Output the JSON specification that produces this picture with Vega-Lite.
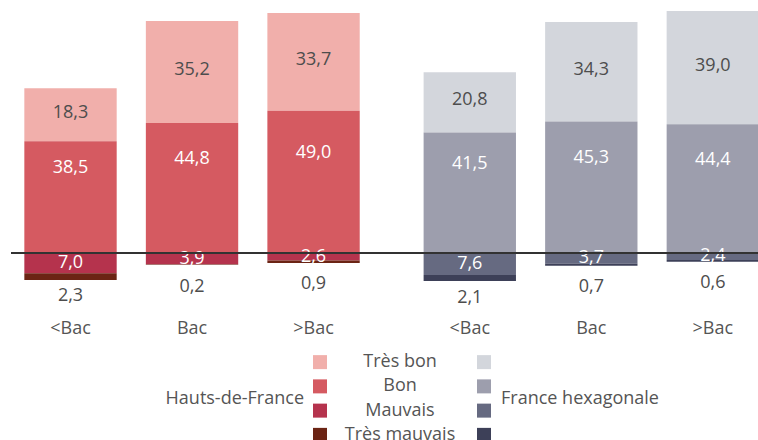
{
  "$schema": "https://vega.github.io/schema/vega-lite/v6.json",
  "padding": {"left": 10, "top": 0, "right": 0, "bottom": 0},
  "spacing": 10,
  "config": {"view": {"stroke": null}, "font": "Open Sans", "text": {"font": "Open Sans", "fontSize": 18}},
  "data": {"values": [
    {"group": "Hauts-de-France", "cat": "<Bac", "level": "Très bon", "value": 18.3},
    {"group": "Hauts-de-France", "cat": "<Bac", "level": "Bon", "value": 38.5},
    {"group": "Hauts-de-France", "cat": "<Bac", "level": "Mauvais", "value": 7.0},
    {"group": "Hauts-de-France", "cat": "<Bac", "level": "Très mauvais", "value": 2.3},
    {"group": "Hauts-de-France", "cat": "Bac", "level": "Très bon", "value": 35.2},
    {"group": "Hauts-de-France", "cat": "Bac", "level": "Bon", "value": 44.8},
    {"group": "Hauts-de-France", "cat": "Bac", "level": "Mauvais", "value": 3.9},
    {"group": "Hauts-de-France", "cat": "Bac", "level": "Très mauvais", "value": 0.2},
    {"group": "Hauts-de-France", "cat": ">Bac", "level": "Très bon", "value": 33.7},
    {"group": "Hauts-de-France", "cat": ">Bac", "level": "Bon", "value": 49.0},
    {"group": "Hauts-de-France", "cat": ">Bac", "level": "Mauvais", "value": 2.6},
    {"group": "Hauts-de-France", "cat": ">Bac", "level": "Très mauvais", "value": 0.9},
    {"group": "France hexagonale", "cat": "<Bac", "level": "Très bon", "value": 20.8},
    {"group": "France hexagonale", "cat": "<Bac", "level": "Bon", "value": 41.5},
    {"group": "France hexagonale", "cat": "<Bac", "level": "Mauvais", "value": 7.6},
    {"group": "France hexagonale", "cat": "<Bac", "level": "Très mauvais", "value": 2.1},
    {"group": "France hexagonale", "cat": "Bac", "level": "Très bon", "value": 34.3},
    {"group": "France hexagonale", "cat": "Bac", "level": "Bon", "value": 45.3},
    {"group": "France hexagonale", "cat": "Bac", "level": "Mauvais", "value": 3.7},
    {"group": "France hexagonale", "cat": "Bac", "level": "Très mauvais", "value": 0.7},
    {"group": "France hexagonale", "cat": ">Bac", "level": "Très bon", "value": 39.0},
    {"group": "France hexagonale", "cat": ">Bac", "level": "Bon", "value": 44.4},
    {"group": "France hexagonale", "cat": ">Bac", "level": "Mauvais", "value": 2.4},
    {"group": "France hexagonale", "cat": ">Bac", "level": "Très mauvais", "value": 0.6}
  ]},
  "transform": [
    {"calculate": "datum.level === 'Mauvais' || datum.level === 'Très mauvais' ? -datum.value : datum.value", "as": "signed"},
    {"calculate": "indexof(['Bon','Très bon','Mauvais','Très mauvais'], datum.level)", "as": "ord"},
    {"calculate": "datum.group + ' – ' + datum.level", "as": "key"},
    {"calculate": "replace(format(datum.value, '.1f'), '.', ',')", "as": "lbl"}
  ],
  "vconcat": [
    {
      "width": 748,
      "height": 340,
      "transform": [
        {"stack": "signed", "groupby": ["group", "cat"], "sort": [{"field": "ord", "order": "ascending"}], "as": ["s0", "s1"]},
        {"calculate": "(datum.s0 + datum.s1) / 2", "as": "mid"},
        {"calculate": "max(datum.s0, datum.s1)", "as": "hi"}
      ],
      "layer": [
        {
          "mark": {"type": "bar"},
          "encoding": {
            "x": {"field": "group", "type": "nominal", "sort": ["Hauts-de-France", "France hexagonale"], "scale": {"paddingInner": 0.16, "paddingOuter": 0.0167, "align": 1}, "axis": null},
            "xOffset": {"field": "cat", "type": "nominal", "sort": ["<Bac", "Bac", ">Bac"], "scale": {"paddingInner": 0.24, "paddingOuter": 0}},
            "y": {"field": "s1", "type": "quantitative", "scale": {"domain": [-30, 87.2], "nice": false, "zero": false}, "axis": null},
            "y2": {"field": "s0"},
            "color": {"field": "key", "type": "nominal", "legend": null,
              "scale": {
                "domain": ["Hauts-de-France – Très bon", "Hauts-de-France – Bon", "Hauts-de-France – Mauvais", "Hauts-de-France – Très mauvais", "France hexagonale – Très bon", "France hexagonale – Bon", "France hexagonale – Mauvais", "France hexagonale – Très mauvais"],
                "range": ["#f1afab", "#d55a61", "#b5334d", "#6b2414", "#d3d6dc", "#9d9ead", "#666a81", "#3d4058"]
              }}
          }
        },
        {
          "transform": [{"filter": "datum.level === 'Très bon'"}],
          "mark": {"type": "text", "fontSize": 18, "color": "#4d4d4d", "baseline": "middle", "dy": -2},
          "encoding": {
            "x": {"field": "group", "type": "nominal", "sort": ["Hauts-de-France", "France hexagonale"]},
            "xOffset": {"field": "cat", "type": "nominal", "sort": ["<Bac", "Bac", ">Bac"]},
            "y": {"field": "mid", "type": "quantitative"}, "text": {"field": "lbl"}}
        },
        {
          "transform": [{"filter": "datum.level === 'Bon'"}],
          "mark": {"type": "text", "fontSize": 18, "color": "#ffffff", "baseline": "middle", "dy": -29},
          "encoding": {
            "x": {"field": "group", "type": "nominal", "sort": ["Hauts-de-France", "France hexagonale"]},
            "xOffset": {"field": "cat", "type": "nominal", "sort": ["<Bac", "Bac", ">Bac"]},
            "y": {"field": "mid", "type": "quantitative"}, "text": {"field": "lbl"}}
        },
        {
          "transform": [{"filter": "datum.level === 'Mauvais'"}],
          "mark": {"type": "text", "fontSize": 18, "color": "#ffffff", "baseline": "middle", "dy": 0},
          "encoding": {
            "x": {"field": "group", "type": "nominal", "sort": ["Hauts-de-France", "France hexagonale"]},
            "xOffset": {"field": "cat", "type": "nominal", "sort": ["<Bac", "Bac", ">Bac"]},
            "y": {"field": "mid", "type": "quantitative"}, "text": {"field": "lbl"}}
        },
        {
          "transform": [{"filter": "datum.level === 'Très mauvais'"}],
          "mark": {"type": "text", "fontSize": 18, "color": "#4d4d4d", "baseline": "middle", "dy": 23},
          "encoding": {
            "x": {"field": "group", "type": "nominal", "sort": ["Hauts-de-France", "France hexagonale"]},
            "xOffset": {"field": "cat", "type": "nominal", "sort": ["<Bac", "Bac", ">Bac"]},
            "y": {"field": "hi", "type": "quantitative"}, "text": {"field": "lbl"}}
        },
        {
          "transform": [{"filter": "datum.level === 'Très bon'"}],
          "mark": {"type": "text", "fontSize": 18, "color": "#555555", "baseline": "middle"},
          "encoding": {
            "x": {"field": "group", "type": "nominal", "sort": ["Hauts-de-France", "France hexagonale"]},
            "xOffset": {"field": "cat", "type": "nominal", "sort": ["<Bac", "Bac", ">Bac"]},
            "y": {"datum": -26.2}, "text": {"field": "cat"}}
        },
        {
          "mark": {"type": "rule", "color": "#333333", "strokeWidth": 1.5},
          "encoding": {"y": {"datum": 0}}
        }
      ]
    },
    {
      "width": 748,
      "height": 97,
      "transform": [{"filter": "datum.cat === '<Bac'"}],
      "encoding": {
        "y": {"field": "level", "type": "nominal", "scale": {"type": "band", "domain": ["Très bon", "Bon", "Mauvais", "Très mauvais"], "paddingInner": 0, "paddingOuter": 0}, "axis": null}
      },
      "layer": [
        {
          "mark": {"type": "square", "size": 196, "opacity": 1, "filled": true},
          "encoding": {
            "x": {"field": "group", "type": "nominal", "scale": {"type": "point", "domain": ["Hauts-de-France", "mid", "France hexagonale"], "range": [309, 473], "padding": 0}, "axis": null},
            "color": {"field": "key", "type": "nominal", "legend": null}
          }
        },
        {
          "transform": [{"filter": "datum.group === 'Hauts-de-France'"}],
          "mark": {"type": "text", "fontSize": 18, "color": "#555555", "baseline": "middle", "dx": -2},
          "encoding": {"x": {"datum": "mid", "type": "nominal"}, "text": {"field": "level"}}
        },
        {
          "transform": [{"filter": "datum.group === 'Hauts-de-France' && datum.level === 'Bon'"}],
          "mark": {"type": "text", "fontSize": 18, "color": "#555555", "baseline": "middle", "align": "right", "dx": -16},
          "encoding": {"x": {"field": "group", "type": "nominal"}, "y": {"field": "level", "type": "nominal", "bandPosition": 1}, "text": {"field": "group"}}
        },
        {
          "transform": [{"filter": "datum.group === 'France hexagonale' && datum.level === 'Bon'"}],
          "mark": {"type": "text", "fontSize": 18, "color": "#555555", "baseline": "middle", "align": "left", "dx": 17},
          "encoding": {"x": {"field": "group", "type": "nominal"}, "y": {"field": "level", "type": "nominal", "bandPosition": 1}, "text": {"field": "group"}}
        }
      ]
    }
  ]
}
